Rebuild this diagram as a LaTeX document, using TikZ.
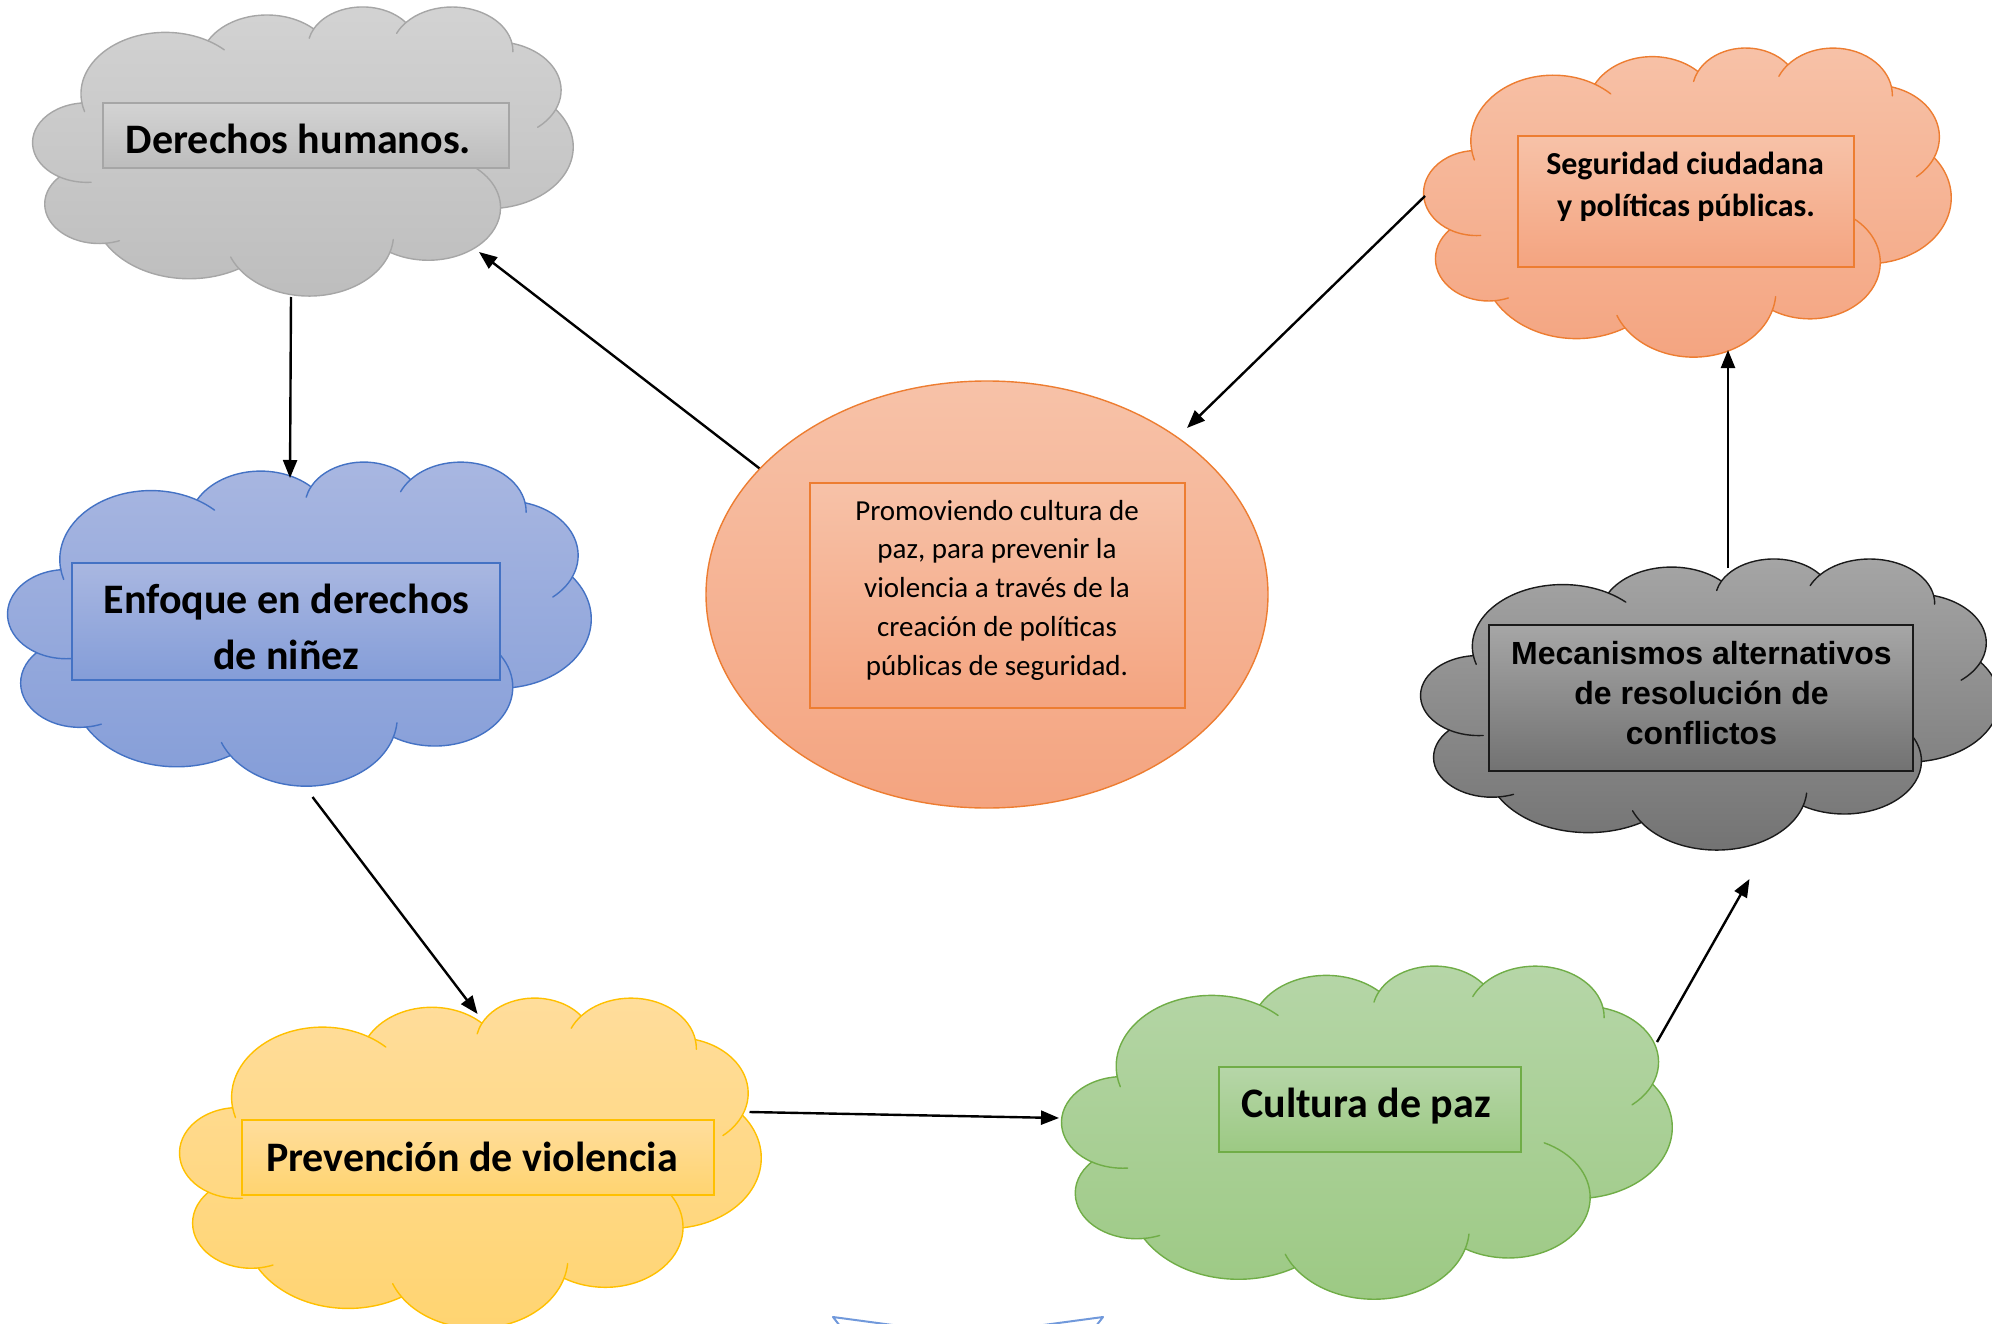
\documentclass[tikz,border=0pt]{standalone}
\usepackage{fontspec}
\setmainfont{Carlito}
\newfontfamily\arialf{Liberation Sans}
\usetikzlibrary{shapes.geometric,arrows.meta}

\definecolor{gryOut}{HTML}{A6A6A6}\definecolor{gryTop}{HTML}{D3D3D3}\definecolor{gryBot}{HTML}{BDBDBD}
\definecolor{bluOut}{HTML}{4472C4}\definecolor{bluTop}{HTML}{A9B7E1}\definecolor{bluBot}{HTML}{849DD8}
\definecolor{yelOut}{HTML}{FFC000}\definecolor{yelTop}{HTML}{FFDD9C}\definecolor{yelBot}{HTML}{FFD470}
\definecolor{grnOut}{HTML}{70AD47}\definecolor{grnTop}{HTML}{B6D6A8}\definecolor{grnBot}{HTML}{9CC983}
\definecolor{orgOut}{HTML}{ED7D31}\definecolor{orgTop}{HTML}{F7C2A8}\definecolor{orgBot}{HTML}{F4A480}
\definecolor{drkOut}{HTML}{1A1A1A}\definecolor{drkTop}{HTML}{A6A6A6}\definecolor{drkBot}{HTML}{727272}
\definecolor{arcBlue}{HTML}{7199DB}

% Office-style cloud arc: wR hR stAng swAng (visual angles, y down, 1/100 of the 43200 grid)
\newcommand\ca[4]{arc[x radius={#1*\csx*1pt}, y radius={#2*\csy*1pt},
  start angle={0-atan2(#1*sin(#3),#2*cos(#3))},
  delta angle={0-(mod(atan2(#1*sin((#3)+(#4)),#2*cos((#3)+(#4)))-atan2(#1*sin(#3),#2*cos(#3))+540,360)-180)}]}

% #1 fill/draw style, #2 crease style, #3 x0, #4 y0, #5 W, #6 H
\newcommand\officecloud[6]{%
 \pgfmathsetmacro\csx{#5/432}\pgfmathsetmacro\csy{#6/432}%
 \begin{scope}[shift={(#3,#4)}]
  \path[#1] (39.00*\csx,143.70*\csy) coordinate (j0)
   \ca{67.53}{91.90}{-190.48748}{123.78053} coordinate (j1)
   \ca{53.33}{72.67}{-144.10238}{89.94523} coordinate (j2)
   \ca{43.65}{59.45}{-145.80792}{99.72302} coordinate (j3)
   \ca{48.57}{65.95}{-130.98607}{117.24173} coordinate (j4)
   \ca{53.33}{72.73}{-78.70888}{109.02692} coordinate (j5)
   \ca{67.75}{92.20}{-46.26725}{130.26900} coordinate (j6)
   \ca{57.85}{78.67}{0.62502}{114.03333} coordinate (j7)
   \ca{67.52}{92.15}{22.45160}{115.17255} coordinate (j8)
   \ca{77.20}{105.43}{66.24263}{75.71102} coordinate (j9)
   \ca{43.60}{59.18}{-274.94208}{146.73557} coordinate (j10)
   \ca{43.45}{59.45}{-246.82850}{152.51885} -- cycle;
  \path[#2]
   (j1) \ca{67.53}{91.90}{-66.707}{12.319}
   (j2) \ca{43.65}{59.45}{-145.808}{-17.686}
   (j3) \ca{48.57}{65.95}{-130.986}{-18.195}
   (j4) \ca{48.57}{65.95}{-13.744}{14.859}
   (j5) \ca{53.33}{72.73}{30.318}{27.7515}
   (j6) \ca{57.85}{78.67}{0.625}{-70.917}
   (j7) \ca{67.52}{92.15}{22.4516}{-15.998}
   (j8) \ca{67.52}{92.15}{137.6242}{14.081}
   (j9) \ca{43.60}{59.18}{85.058}{-11.4475}
   (j10) \ca{43.45}{59.45}{113.17}{-26.43}
   (j0) \ca{67.53}{91.90}{169.513}{-11.858};
 \end{scope}}

\tikzset{
  cloudfill/.style n args={3}{draw=#1, top color=#2, bottom color=#3, line width=1.4pt, line join=round},
  crease/.style={draw=#1, line width=1.4pt, line cap=round},
  txtbox/.style n args={3}{rectangle, inner sep=0pt, draw=#1, top color=#2, bottom color=#3, line width=1.3pt},
  big/.style={font=\fontsize{42}{50}\selectfont\bfseries, inner sep=0pt, anchor=base},
  mid/.style={font=\fontsize{32}{40}\selectfont\bfseries, inner sep=0pt, anchor=base},
  ari/.style={font=\arialf\fontsize{32}{40}\selectfont\bfseries, inner sep=0pt, anchor=base},
  small/.style={font=\fontsize{29}{38}\selectfont, inner sep=0pt, anchor=base},
  conn/.style={line width=2.4pt, black, -{Triangle[length=18pt,width=14pt]}},
}

\begin{document}
\begin{tikzpicture}[x=1pt,y=-1pt]
\path[use as bounding box, clip] (0,0) rectangle (1992,1324);

% central ellipse
\node[ellipse, minimum width=562pt, minimum height=427pt, inner sep=0pt, draw=orgOut, line width=1.4pt,
      top color=orgTop, bottom color=orgBot] (centro) at (987,594.5) {};
\node[txtbox={orgOut}{orgTop}{orgBot}, minimum width=375pt, minimum height=225pt] (cbox) at (997.5,595.5) {};
\node[small] (c1) at (997,520) {Promoviendo cultura de};
\node[small] (c2) at (997,558.75) {paz, para prevenir la};
\node[small] (c3) at (997,597.5) {violencia a través de la};
\node[small] (c4) at (997,636.25) {creación de políticas};
\node[small] (c5) at (997,675) {públicas de seguridad.};

% clouds
\officecloud{cloudfill={gryOut}{gryTop}{gryBot}}{crease=gryOut}{33}{6}{540}{289}
\node[txtbox={gryOut}{gryTop}{gryBot}, minimum width=406pt, minimum height=65pt] (dhbox) at (306,135.5) {};
\node[big] (dht) at (298.5,154) {Derechos humanos.};

\officecloud{cloudfill={bluOut}{bluTop}{bluBot}}{crease=bluOut}{8}{461}{583}{324}
\node[txtbox={bluOut}{bluTop}{bluBot}, minimum width=428pt, minimum height=117pt] (enbox) at (286,621.5) {};
\node[big] (en1) at (286.5,613) {Enfoque en derechos};
\node[big] (en2) at (286,669) {de niñez};

\officecloud{cloudfill={yelOut}{yelTop}{yelBot}}{crease=yelOut}{180}{997}{581}{330}
\node[txtbox={yelOut}{yelTop}{yelBot}, minimum width=472pt, minimum height=75pt] (pvbox) at (478,1157.5) {};
\node[big] (pvt) at (472,1171) {Prevención de violencia};

\officecloud{cloudfill={grnOut}{grnTop}{grnBot}}{crease=grnOut}{1062}{965}{610}{333}
\node[txtbox={grnOut}{grnTop}{grnBot}, minimum width=302pt, minimum height=85pt] (cpbox) at (1370,1109.5) {};
\node[big] (cpt) at (1366,1117) {Cultura de paz};

\officecloud{cloudfill={orgOut}{orgTop}{orgBot}}{crease=orgOut}{1424}{47}{527}{309}
\node[txtbox={orgOut}{orgTop}{orgBot}, minimum width=336pt, minimum height=131pt] (sgbox) at (1686,201.5) {};
\node[mid] (sg1) at (1685,175) {Seguridad ciudadana};
\node[mid] (sg2) at (1686,217) {y políticas públicas.};

\officecloud{cloudfill={drkOut}{drkTop}{drkBot}}{crease=drkOut}{1421}{558}{578}{291}
\node[txtbox={drkOut}{drkTop}{drkBot}, minimum width=424pt, minimum height=146pt] (mabox) at (1701,698) {};
\node[ari] (ma1) at (1701.5,664) {Mecanismos alternativos};
\node[ari] (ma2) at (1701.5,704) {de resolución de};
\node[ari] (ma3) at (1701.5,744) {conflictos};

% partial shape at the bottom edge
\coordinate (bl) at (833,1317);
\coordinate (br) at (1103,1317);
\draw[arcBlue, line width=2pt, line join=round] (840,1326) -- (bl) -- (900,1326);
\draw[arcBlue, line width=2pt, line join=round] (1096,1326) -- (br) -- (1036,1326);

% connector end points
\coordinate (dhS) at (291,297);
\coordinate (enN) at (290,478);
\coordinate (enS) at (312.5,797);
\coordinate (pvN) at (477.6,1014);
\coordinate (pvE) at (749.5,1112);
\coordinate (cpW) at (1059,1118);
\coordinate (cpNE) at (1657,1042);
\coordinate (maS) at (1749.5,879);
\coordinate (maN) at (1728,568);
\coordinate (sgS) at (1728,350);
\coordinate (sgW) at (1425,196);
\coordinate (ceNE) at (1187,428);
\coordinate (dhSE) at (479,252);

\draw[conn] (dhS) -- (enN);
\draw[conn] (enS) -- (pvN);
\draw[conn] (pvE) -- (cpW);
\draw[conn] (cpNE) -- (maS);
\draw[conn] (maN) -- (sgS);
\draw[conn] (sgW) -- (ceNE);
\draw[conn] (centro.151.6) -- (dhSE);
\end{tikzpicture}
\end{document}
